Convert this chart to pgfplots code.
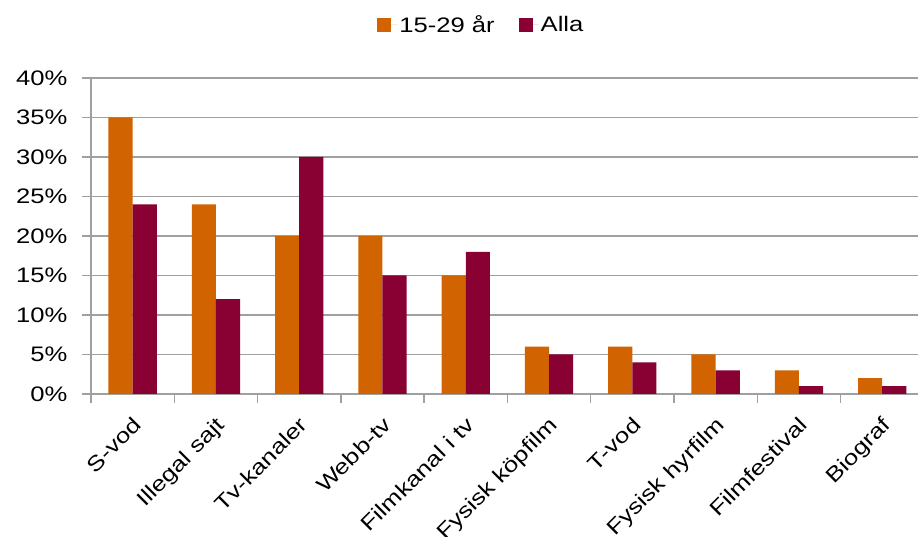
\documentclass[border=0pt]{standalone}
\usepackage{fontspec}
\setmainfont{Liberation Sans}[FakeStretch=1.22]
\usepackage{pgfplots}
\pgfplotsset{compat=1.18}
\definecolor{cOr}{RGB}{209,99,0}
\definecolor{cMa}{RGB}{137,0,50}
\definecolor{cGr}{RGB}{160,160,160}
\begin{document}
\begin{tikzpicture}
\begin{axis}[
  scale only axis, width=827pt, height=316pt,
  xmin=-0.5, xmax=9.43, ymin=0, ymax=40,
  ybar=0pt, bar width=0.29,
  axis x line=bottom, axis y line=left,
  axis line style={cGr, line width=1.5pt, -},
  ytick={0,5,...,40},
  yticklabel={\pgfmathprintnumber{\tick}\%},
  /pgf/number format/assume math mode=true,
  ymajorgrids, grid style={cGr, line width=1.5pt},
  tick align=outside, major tick length=9pt,
  ytick style={cGr, line width=1.5pt},
  xtick={0,...,9},
  xticklabels={S-vod,Illegal sajt,Tv-kanaler,Webb-tv,Filmkanal i tv,Fysisk köpfilm,T-vod,Fysisk hyrfilm,Filmfestival,Biograf},
  xtick style={draw=none},
  extra x ticks={-0.5,0.5,...,8.5},
  extra x tick labels={},
  extra x tick style={xtick style={draw=cGr, line width=1.5pt}},
  ticklabel style={font=\fontsize{21}{24}\selectfont, text=black},
  yticklabel style={xshift=-11pt},
  xticklabel style={xshift=-1pt, yshift=-8pt, rotate=45, anchor=north east},
  legend style={at={(0.472,1.168)}, anchor=center, draw=none, fill=none,
    legend columns=2, font=\fontsize{21}{24}\selectfont,
    /tikz/every even column/.append style={column sep=22pt}},
  legend image code/.code={\fill[#1] (0pt,-7pt) rectangle (14pt,7pt); \path (0pt,0pt) -- (20pt,0pt);},
]
\coordinate (O) at (rel axis cs:0,0);
\addplot[fill=cOr, draw=none] coordinates {(0,35)(1,24)(2,20)(3,20)(4,15)(5,6)(6,6)(7,5)(8,3)(9,2)};
\addplot[fill=cMa, draw=none] coordinates {(0,24)(1,12)(2,30)(3,15)(4,18)(5,5)(6,4)(7,3)(8,1)(9,1)};
\legend{15-29 år, Alla}
\end{axis}
\pgfresetboundingbox
\path[use as bounding box] (O) ++(-91pt,-143pt) rectangle ++(918pt,537pt);
\end{tikzpicture}
\end{document}
